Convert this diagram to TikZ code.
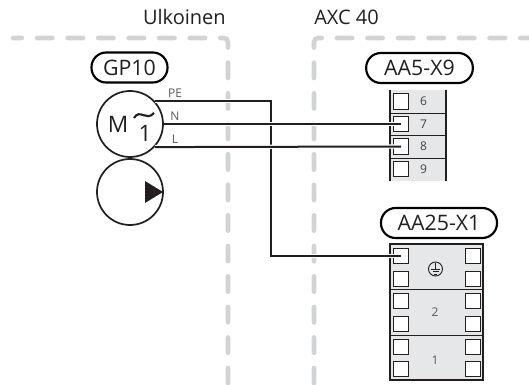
\documentclass[tikz,border=0pt]{standalone}
\usepackage{fontspec}
\setmainfont{Open Sans}
\usetikzlibrary{calc}

\definecolor{zoneline}{HTML}{D1D3D4}
\definecolor{blockfill}{HTML}{E6E7E8}
\definecolor{inktext}{HTML}{231F20}
\definecolor{smalltext}{HTML}{58595B}

\tikzset{
	zone/.style={draw=zoneline, line width=3.4pt, line cap=round, rounded corners=3pt,
		dash pattern=on 11.6pt off 11.3pt, dash phase=4.9pt},
	heading/.style={text=inktext, font=\fontsize{15}{16}\selectfont, inner sep=0pt},
	pill/.style={draw=black, line width=1.6pt, rounded corners=11pt, minimum height=22.5pt,
		inner sep=0pt, text=inktext, font=\fontsize{16}{18}\selectfont},
	round/.style={draw=inktext, line width=1.3pt, circle, minimum size=49.5pt, inner sep=0pt},
	terminal/.style={draw=inktext, fill=white, line width=0.9pt, minimum size=11.5pt, inner sep=0pt},
	small/.style={text=smalltext, font=\fontsize{9}{10}\selectfont, inner sep=0pt},
	wire/.style={draw=inktext, line width=1.5pt, preaction={draw=white, line width=3.2pt}},
}

\begin{document}
\begin{tikzpicture}[x=0.75pt, y=-0.75pt]
		\useasboundingbox (0,0) rectangle (529,385);

		\draw [zone] (13,38) -- (228,38) -- (228,385);
		\draw [zone] (529,38) -- (314,38) -- (314,385);
		\node [heading, anchor=east] (outside) at (226,17) {Ulkoinen};
		\node [heading, anchor=west] (inside) at (314,17) {AXC 40};

		\node [pill, minimum width=57pt] (gp) at (129.5,67.5) {GP10};
		\node [pill, minimum width=80pt] (aafive) at (419.5,68) {AA5-X9};
		\node [pill, minimum width=87pt] (aatwentyfive) at (439,223) {AA25-X1};

		\node [round] (motor) at (130,124) {};
		\node [round] (pump) at (130,192) {};
		\fill [inktext] (145,181) -- (163,192) -- (145,203) -- cycle;
		\node [text=inktext, inner sep=0pt, font=\fontsize{17}{18}\selectfont] (mletter) at (118,124.5) {M};
		\node [text=inktext, inner sep=0pt, font=\fontsize{17}{18}\selectfont] (phase) at (145,133) {1};
		\draw [inktext, line width=1.6pt] (134,118) .. controls (140,108) and (146,122) .. (154,113);

		% plint 6-9
		\fill [blockfill] (390,90) rectangle (446,181);
		\draw [inktext, line width=0.7pt] (390,113) -- (446,113) (390,135.5) -- (446,135.5) (390,158) -- (446,158);
		\draw [inktext, line width=1.4pt] (390,90) -- (390,181) (446,90) -- (446,181);
		\foreach \num/\ypos in {6/101.5, 7/124, 8/146.5, 9/169} {
			\node [terminal] (t\num) at (401,\ypos) {};
			\node [small, text=inktext!85] (n\num) at (423.5,\ypos) {\num};
		}

		% plint earth, 2, 1
		\fill [blockfill] (390,244) rectangle (483,380);
		\draw [inktext, line width=0.7pt] (390,289.5) -- (483,289.5) (390,335) -- (483,335);
		\draw [inktext, line width=1.4pt] (390,244) rectangle (483,380);
		\foreach \ypos [count=\i] in {256, 279, 301, 324, 347, 369} {
			\node [terminal] (l\i) at (401,\ypos) {};
			\node [terminal] (r\i) at (473,\ypos) {};
		}
		\node [small] (two) at (435,312.5) {2};
		\node [small] (one) at (435,360) {1};
		\node [draw=inktext, circle, line width=0.7pt, minimum size=10.5pt, inner sep=0pt] (earth) at (435.5,269) {};
		\draw [inktext, line width=0.7pt]
			(435.5,263) -- (435.5,269)
			(431,269) -- (440,269)
			(432.5,271.5) -- (438.5,271.5)
			(434,274) -- (437,274);

		% wires
		\coordinate (pedrop) at (271,180);
		\draw [wire] (motor.43) -| (pedrop) |- (l1.center);
		\draw [wire] (motor.0) -- (t7.center);
		\draw [wire] (motor.-43) -- (t8.center);
		\node [small] (pe) at (175,93) {PE};
		\node [small] (n) at (175,116.5) {N};
		\node [small] (l) at (175,139) {L};
	\end{tikzpicture}
\end{document}
